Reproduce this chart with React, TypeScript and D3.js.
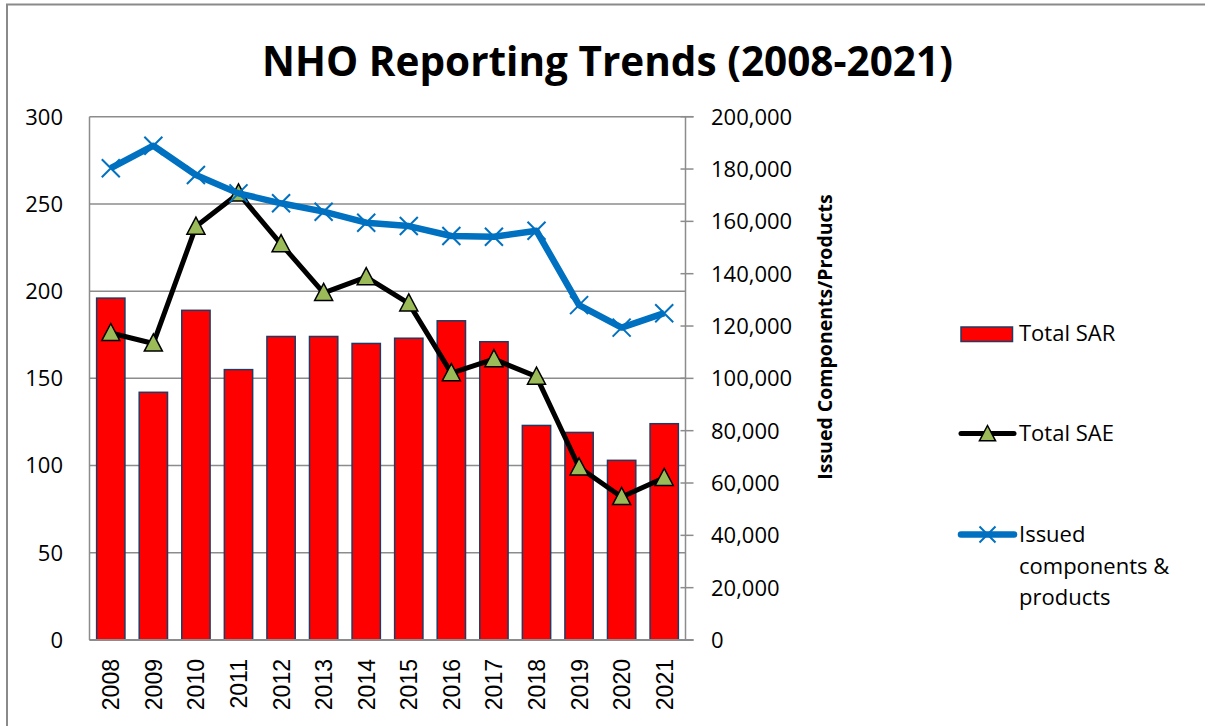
import React from "react";
import * as d3 from "d3";

const years = ["2008","2009","2010","2011","2012","2013","2014","2015","2016","2017","2018","2019","2020","2021"];
const totalSAR = [196,142,189,155,174,174,170,173,183,171,123,119,103,124];
const totalSAE = [176,170,237,256,227,199,208,193,153,161,151,99,82,93];
const issued = [180300,188900,177700,170700,166900,163700,159500,158200,154400,154100,156400,128000,119400,124900];
const leftTicks = [0,50,100,150,200,250,300];
const rightTicks = [0,20000,40000,60000,80000,100000,120000,140000,160000,180000,200000];

const W = 1205, H = 726;
const L = 89.5, R = 685.5, T = 116.7, B = 640;
const FONT = "'Open Sans', sans-serif";

export default function App() {
  const x = d3.scaleBand<string>().domain(years).range([L, R]).paddingInner(0.335).paddingOuter(0.1675);
  const yL = d3.scaleLinear().domain([0, 300]).range([B, T]);
  const yR = d3.scaleLinear().domain([0, 200000]).range([B, T]);
  const cx = (y: string) => (x(y) as number) + x.bandwidth() / 2;
  const fmt = d3.format(",");

  const saeLine = d3.line<number>().x((_, i) => cx(years[i])).y(v => yL(v))(totalSAE) as string;
  const issuedLine = d3.line<number>().x((_, i) => cx(years[i])).y(v => yR(v))(issued) as string;

  const tri = (px: number, py: number, s = 9.5) =>
    `M${px},${py - s}L${px + s * 0.95},${py + s * 0.8}L${px - s * 0.95},${py + s * 0.8}Z`;
  const cross = (px: number, py: number, s = 9) =>
    `M${px - s},${py - s}L${px + s},${py + s}M${px - s},${py + s}L${px + s},${py - s}`;

  return (
    <svg width={W} height={H} style={{ position: "absolute", left: 0, top: 0, background: "#fff" }} fontFamily={FONT}>
      <rect x={0} y={0} width={W} height={H} fill="#fff" />
      {/* outer frame */}
      <path d={`M7,${H + 2}V4.5H${W + 2}`} fill="none" stroke="#8a8a8a" strokeWidth={2} />

      <text x={607.5} y={76} textAnchor="middle" fontSize={40.5} fontWeight="bold" fill="#000">
        NHO Reporting Trends (2008-2021)
      </text>

      {/* gridlines */}
      {leftTicks.map(t => (
        <line key={t} x1={L} x2={t === 300 ? R + 8 : R} y1={yL(t)} y2={yL(t)} stroke="#8c8c8c" strokeWidth={1.5} />
      ))}
      {/* left axis */}
      <line x1={L} x2={L} y1={T} y2={B} stroke="#8c8c8c" strokeWidth={1.5} />
      {leftTicks.map(t => (
        <text key={t} x={63} y={yL(t)} dy="0.36em" textAnchor="end" fontSize={22} fill="#000">{t}</text>
      ))}

      {/* bars */}
      {totalSAR.map((v, i) => (
        <rect key={i} x={x(years[i])} y={yL(v)} width={x.bandwidth()} height={B - yL(v)}
          fill="#ff0000" stroke="#1f3b63" strokeWidth={1.5} />
      ))}

      {/* bottom axis */}
      <line x1={L} x2={R + 8} y1={B} y2={B} stroke="#8c8c8c" strokeWidth={2} />
      {years.map(y => (
        <text key={y} transform={`translate(${cx(y) + 8.5},659) rotate(-90)`} textAnchor="end"
          fontFamily="'Liberation Sans', Arial, sans-serif" fontSize={23} fill="#000">{y}</text>
      ))}

      {/* right axis */}
      <line x1={R} x2={R} y1={T} y2={B} stroke="#8c8c8c" strokeWidth={1.5} />
      {rightTicks.map(t => (
        <g key={t}>
          <line x1={R - 5} x2={R + 8} y1={yR(t)} y2={yR(t)} stroke="#8c8c8c" strokeWidth={1.5} />
          <text x={711} y={yR(t)} dy="0.36em" fontSize={22} fill="#000">{fmt(t)}</text>
        </g>
      ))}
      <text transform={`translate(832,337) rotate(-90)`} textAnchor="middle" fontSize={19.5} fontWeight="bold" fill="#000">
        Issued Components/Products
      </text>

      {/* SAE line */}
      <path d={saeLine} fill="none" stroke="#000" strokeWidth={5} strokeLinejoin="round" />
      {totalSAE.map((v, i) => (
        <path key={i} d={tri(cx(years[i]), yL(v))} fill="#9bbb59" stroke="#000" strokeWidth={1.5} strokeLinejoin="miter" />
      ))}

      {/* issued line */}
      <path d={issuedLine} fill="none" stroke="#0070c0" strokeWidth={6.5} strokeLinejoin="round" />
      {issued.map((v, i) => (
        <path key={i} d={cross(cx(years[i]), yR(v))} fill="none" stroke="#0070c0" strokeWidth={2} />
      ))}

      {/* legend */}
      <rect x={961} y={327} width={51.5} height={14.5} fill="#ff0000" stroke="#1f3b63" strokeWidth={1.5} />
      <text x={1019} y={341} fontSize={22} fill="#000">Total SAR</text>

      <line x1={961} x2={1014} y1={433.5} y2={433.5} stroke="#000" strokeWidth={5} strokeLinecap="round" />
      <path d={tri(987.5, 434, 8.5)} fill="#9bbb59" stroke="#000" strokeWidth={1.5} />
      <text x={1019} y={440.5} fontSize={22} fill="#000">Total SAE</text>

      <line x1={961} x2={1014} y1={534.5} y2={534.5} stroke="#0070c0" strokeWidth={6.5} strokeLinecap="round" />
      <path d={cross(987.5, 534.5, 8)} fill="none" stroke="#0070c0" strokeWidth={2} />
      <text x={1019} y={542} fontSize={22} fill="#000">
        <tspan x={1019} dy={0}>Issued</tspan>
        <tspan x={1019} dy={31.5}>components &amp;</tspan>
        <tspan x={1019} dy={31.5}>products</tspan>
      </text>
    </svg>
  );
}
